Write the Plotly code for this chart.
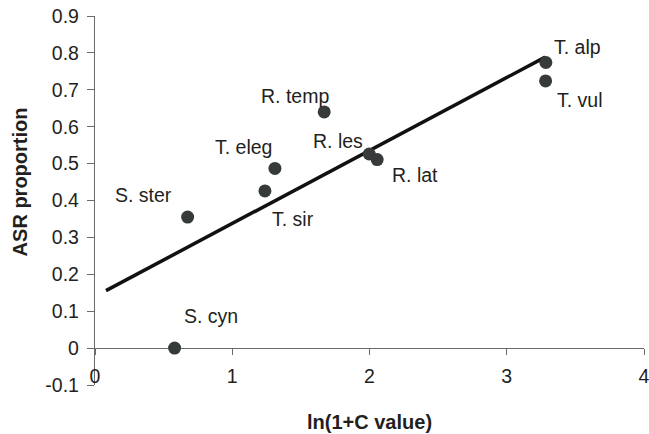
import numpy as np
import plotly.graph_objects as go

species = ["S. cyn", "S. ster", "T. sir", "T. eleg", "R. temp", "R. les", "R. lat", "T. alp", "T. vul"]
ln_c = [0.58, 0.675, 1.238, 1.311, 1.670, 1.998, 2.056, 3.285, 3.283]
asr = [0.0, 0.355, 0.426, 0.487, 0.640, 0.526, 0.511, 0.774, 0.724]
fit_x_range = [0.08, 3.28]
x_ticks = [0, 1, 2, 3, 4]
y_ticks = [-0.1, 0, 0.1, 0.2, 0.3, 0.4, 0.5, 0.6, 0.7, 0.8, 0.9]

# label offsets in px (style)
label_shift = {
    "S. cyn": (36, 32), "S. ster": (-44, 22), "T. sir": (28, -28),
    "T. eleg": (-31, 21), "R. temp": (-29, 16), "R. les": (-31, 13),
    "R. lat": (38, -15), "T. alp": (32, 15), "T. vul": (34, -19),
}

slope, intercept = np.polyfit(ln_c, asr, 1)
fx = np.array(fit_x_range)
fy = slope * fx + intercept

FONT = "Liberation Sans, Arial, sans-serif"
TXT = "#231f20"

fig = go.Figure()
fig.add_trace(go.Scatter(x=fx, y=fy, mode="lines", line=dict(color="#111111", width=3.5),
                         hoverinfo="skip", showlegend=False))
fig.add_trace(go.Scatter(x=ln_c, y=asr, mode="markers",
                         marker=dict(color="#363a3a", size=13), showlegend=False,
                         cliponaxis=False))

for s, x, y in zip(species, ln_c, asr):
    dx, dy = label_shift[s]
    fig.add_annotation(x=x, y=y, text=s, showarrow=False, xshift=dx, yshift=dy,
                       font=dict(family=FONT, size=19.5, color=TXT))

fig.add_annotation(xref="paper", yref="paper", x=0.5, y=-0.1, yanchor="middle",
                   text="<b>ln(1+C value)</b>", showarrow=False,
                   font=dict(family=FONT, size=20, color=TXT))
fig.add_annotation(xref="paper", yref="paper", x=-0.136, y=0.55, xanchor="center", yanchor="middle",
                   text="<b>ASR proportion</b>", showarrow=False, textangle=-90,
                   font=dict(family=FONT, size=20, color=TXT))

fig.update_layout(
    width=649, height=434,
    margin=dict(l=95, r=5, t=16, b=49, autoexpand=False),
    plot_bgcolor="white", paper_bgcolor="white",
    font=dict(family=FONT, size=19.5, color=TXT),
    xaxis=dict(range=[0, 4], tickvals=x_ticks, ticktext=[str(v) for v in x_ticks],
               showgrid=False, zeroline=False, showline=True, linecolor="#6b6b6b", linewidth=1.3,
               ticks="outside", ticklen=6, tickcolor="#6b6b6b", tickwidth=1.3, automargin=False,
               anchor="free", position=0.1, ticklabelstandoff=4, layer="below traces",
               ticklabeloverflow="allow"),
    yaxis=dict(range=[-0.1, 0.9], tickvals=y_ticks, ticktext=[f"{v:g}" for v in y_ticks],
               showgrid=False, zeroline=False, showline=True, linecolor="#6b6b6b", linewidth=1.3,
               ticks="outside", ticklen=7, tickcolor="#6b6b6b", tickwidth=1.3, automargin=False,
               ticklabelstandoff=4, layer="below traces", ticklabeloverflow="allow"),
)

fig.write_html("out.html", config={"displayModeBar": False},
               post_script="document.body.style.margin='0';document.body.style.overflow='hidden';")
